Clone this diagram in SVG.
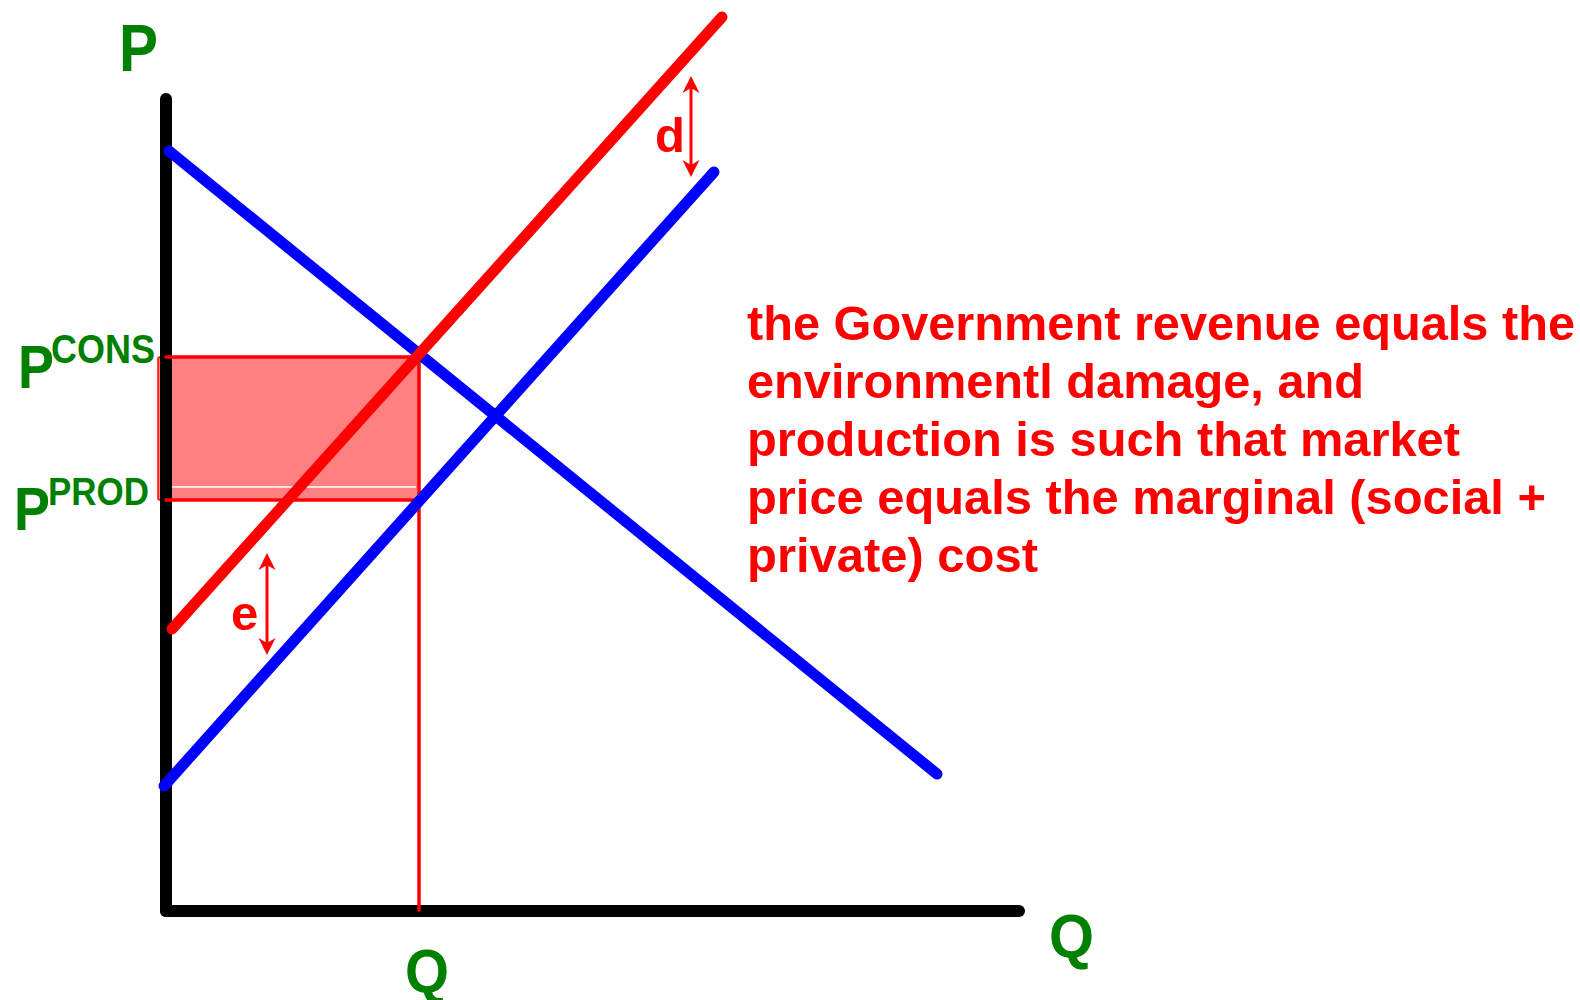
<svg xmlns="http://www.w3.org/2000/svg" width="1580" height="1000" viewBox="0 0 1580 1000">
<style>
.lbl{font-family:"Liberation Sans",Arial,sans-serif;font-weight:bold;fill:#008000}
.note{font-family:"Liberation Sans",Arial,sans-serif;font-weight:bold;fill:#FF0000;font-size:49px}
.axis{stroke:#000;stroke-width:12;stroke-linecap:round;fill:none}
.curve{stroke-width:11;stroke-linecap:round;fill:none}
.thin{stroke:#FF0000;stroke-width:3.5;stroke-linecap:round;fill:none}
.arr{stroke:#FF0000;stroke-width:3;fill:none;marker-start:url(#ah);marker-end:url(#ah)}
</style>
<defs>
<marker id="ah" viewBox="-10 -10 20 20" refX="0" refY="0" markerWidth="20" markerHeight="20" markerUnits="userSpaceOnUse" orient="auto-start-reverse">
<path d="M8,0 L-9,-8.5 L-4,0 L-9,8.5 Z" fill="#FF0000"/>
</marker>
</defs>
<rect x="158" y="357" width="261" height="143" rx="2" fill="#FF8080" stroke="#FF0000" stroke-width="1.5"/>
<line x1="172" y1="487" x2="416" y2="487" stroke="#FFFFFF" stroke-width="1.5"/>
<g id="axes">
<line class="axis" x1="166" y1="99" x2="166" y2="911"/>
<line class="axis" x1="166" y1="911" x2="1019" y2="911"/>
</g>
<g id="connectors">
<line class="thin" x1="166" y1="357" x2="419" y2="357"/>
<line class="thin" x1="166" y1="500" x2="419" y2="500"/>
<line class="thin" x1="419" y1="357" x2="419" y2="910"/>
<line id="demand" class="curve" stroke="#0000FF" x1="169" y1="151" x2="937" y2="774"/>
<line id="supply" class="curve" stroke="#0000FF" x1="164" y1="786" x2="714" y2="172"/>
<line id="social" class="curve" stroke="#FF0000" x1="172" y1="629" x2="722" y2="17"/>
<line class="arr" x1="691" y1="84" x2="691" y2="169"/>
<line class="arr" x1="267" y1="561" x2="267" y2="647"/>
</g>
<g id="labels">
<text class="lbl" x="119" y="71" font-size="66" textLength="39" lengthAdjust="spacingAndGlyphs">P</text>
<text class="lbl" x="18" y="388" font-size="61" textLength="36" lengthAdjust="spacingAndGlyphs">P</text>
<text class="lbl" x="51" y="363" font-size="40" textLength="104" lengthAdjust="spacingAndGlyphs">CONS</text>
<text class="lbl" x="14" y="530" font-size="61" textLength="36" lengthAdjust="spacingAndGlyphs">P</text>
<text class="lbl" x="48" y="505" font-size="38" textLength="101" lengthAdjust="spacingAndGlyphs">PROD</text>
<text class="lbl" x="405" y="992" font-size="61" textLength="44" lengthAdjust="spacingAndGlyphs">Q</text>
<text class="lbl" x="1049" y="957" font-size="62" textLength="45" lengthAdjust="spacingAndGlyphs">Q</text>
<text class="note" x="655" y="152">d</text>
<text class="note" x="231" y="630">e</text>
</g>
<g id="note">
<text class="note" x="747" y="340" textLength="828" lengthAdjust="spacingAndGlyphs">the Government revenue equals the</text>
<text class="note" x="747" y="398" textLength="617" lengthAdjust="spacingAndGlyphs">environmentl damage, and</text>
<text class="note" x="747" y="456" textLength="713" lengthAdjust="spacingAndGlyphs">production is such that market</text>
<text class="note" x="747" y="514" textLength="799" lengthAdjust="spacingAndGlyphs">price equals the marginal (social +</text>
<text class="note" x="747" y="572" textLength="291" lengthAdjust="spacingAndGlyphs">private) cost</text>
</g>
</svg>
